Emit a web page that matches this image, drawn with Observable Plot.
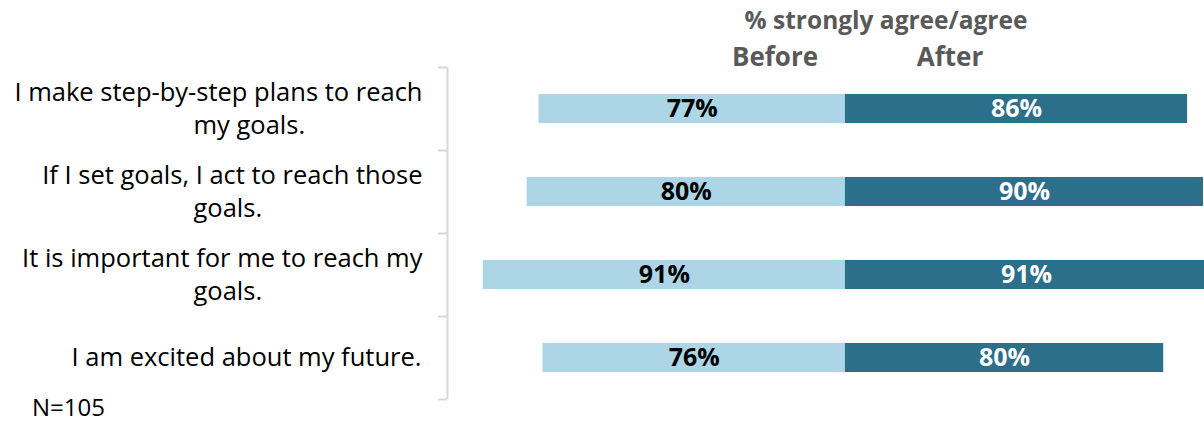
<!DOCTYPE html>
<html>
<head>
<meta charset="utf-8">
<script src="https://cdn.jsdelivr.net/npm/d3@7"></script>
<script src="https://cdn.jsdelivr.net/npm/@observablehq/plot@0.6"></script>
<style>
  html, body { margin: 0; padding: 0; background: #fff; }
  #wrap { position: relative; width: 1204px; height: 424px; font-family: "Open Sans", "Liberation Sans", sans-serif; }
  #wrap svg { position: absolute; left: 0; top: 0; }
  .hdr { position: absolute; font-weight: bold; color: #595959; line-height: 1; white-space: nowrap; transform: translate(-50%, -50%); }
  .title { font-size: 24.5px; }
  .col { font-size: 26px; }
  .note { position: absolute; font-size: 24px; color: #000; line-height: 1; white-space: nowrap; transform: translateY(-50%); }
</style>
</head>
<body>
<div id="wrap"></div>
<script>
// ---- data ----
const categories = [
  "I make step-by-step plans to reach my goals.",
  "If I set goals, I act to reach those goals.",
  "It is important for me to reach my goals.",
  "I am excited about my future."
];
const labelLine1 = [
  "I make step-by-step plans to reach",
  "If I set goals, I act to reach those",
  "It is important for me to reach my",
  "I am excited about my future."
];
const labelLine2 = ["my goals.", "goals.", "goals.", ""];
const seriesNames = ["Before", "After"];
const before = [77, 80, 91, 76];
const after = [86, 90, 91, 80];
const titleText = "% strongly agree/agree";
const noteText = "N=105";

// ---- build table ----
const rows = [];
categories.forEach((c, i) => {
  rows.push({cat: c, series: "Before", value: before[i], signed: -before[i]});
  rows.push({cat: c, series: "After", value: after[i], signed: after[i]});
});
const labels = categories.map((c, i) => ({cat: c, l1: labelLine1[i], l2: labelLine2[i], two: labelLine2[i] !== ""}));

const lightBlue = "#acd6e6";
const darkBlue = "#2b6f8a";
const axisGray = "#d9d9d9";
const font = "'Open Sans', 'Liberation Sans', sans-serif";
const labelSize = 25.5;

const chart = Plot.plot({
  width: 1204,
  height: 424,
  marginTop: 67,
  marginBottom: 25,
  marginLeft: 447,
  marginRight: 0,
  style: {fontFamily: font, background: "transparent"},
  x: {domain: [-100, 90.25], axis: null},
  y: {domain: categories, axis: null, paddingInner: 0.65, paddingOuter: 0.325},
  color: {domain: seriesNames, range: [lightBlue, darkBlue]},
  marks: [
    Plot.barX(rows, {y: "cat", x1: 0, x2: "signed", fill: "series"}),
    Plot.text(rows, {
      y: "cat",
      x: d => d.signed / 2,
      text: d => `${d.value}%`,
      fill: d => d.series === "Before" ? "#000" : "#fff",
      fontWeight: "bold",
      fontSize: 25
    }),
    // axis line
    Plot.ruleX([-100], {stroke: axisGray, strokeWidth: 2}),
    // boundary ticks
    Plot.ruleY(categories, {y: d => d, x1: -100, x2: -100, insetLeft: -9, dy: -41.5, stroke: axisGray, strokeWidth: 2}),
    Plot.ruleY(categories.slice(-1), {y: d => d, x1: -100, x2: -100, insetLeft: -9, dy: 41.5, stroke: axisGray, strokeWidth: 2}),
    // category labels (single line)
    Plot.text(labels.filter(d => !d.two), {
      y: "cat", frameAnchor: "left", text: "l1", textAnchor: "end",
      dx: -26, fontSize: labelSize, fill: "#000"
    }),
    // category labels (two lines)
    Plot.text(labels.filter(d => d.two), {
      y: "cat", frameAnchor: "left", text: "l1", textAnchor: "end",
      dx: -25, dy: -16.5, fontSize: labelSize, fill: "#000"
    }),
    Plot.text(labels.filter(d => d.two), {
      y: "cat", frameAnchor: "left", text: "l2", textAnchor: "start",
      dx: -254, dy: 16.5, fontSize: labelSize, fill: "#000"
    })
  ]
});

const wrap = document.getElementById("wrap");
wrap.appendChild(chart);

function addDiv(cls, text, left, top) {
  const d = document.createElement("div");
  d.className = cls;
  d.textContent = text;
  d.style.left = left + "px";
  d.style.top = top + "px";
  wrap.appendChild(d);
}
addDiv("hdr title", titleText, 886, 20);
addDiv("hdr col", seriesNames[0], 775, 56);
addDiv("hdr col", seriesNames[1], 950, 56);
addDiv("note", noteText, 32, 407);
</script>
</body>
</html>
